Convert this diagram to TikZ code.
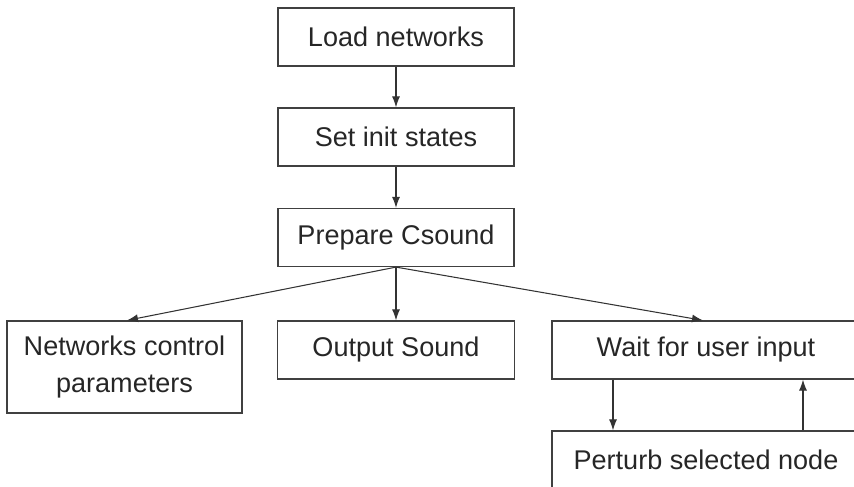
\documentclass[tikz,border=0pt]{standalone}
\usepackage{fontspec}
\setmainfont{Liberation Sans}
\tikzset{>=latex}
\tikzset{stepbox/.style = {draw = black!75, line width = 0.7pt, minimum height = 1.16cm, align = center, font = \fontsize{15.4}{20.5}\selectfont, text = black!85}}
\tikzset{flow/.style = {->, line width = 0.6pt, black!80, >={Latex[length=2.2mm, width=1.6mm]}}}
\usetikzlibrary{arrows.meta}

\begin{document}
\begin{tikzpicture}
	\useasboundingbox (0, 0) rectangle (17.08, -9.74);
	\clip (0, 0) rectangle (17.08, -9.74);
	% main column
	\node[stepbox, minimum width = 4.72cm] (load) at (7.92, -0.74) {Load networks};
	\node[stepbox, minimum width = 4.72cm] (init) at (7.92, -2.74) {Set init states};
	\node[stepbox, minimum width = 4.72cm] (prep) at (7.92, -4.75) {Prepare Csound};
	% bottom row
	\node[stepbox, minimum width = 4.70cm, minimum height = 1.84cm] (net) at (2.49, -7.34) {Networks control\\parameters};
	\node[stepbox, minimum width = 4.74cm] (out) at (7.92, -7.00) {Output Sound};
	\node[stepbox, minimum width = 6.16cm] (wait) at (14.12, -7.00) {Wait for user input};
	\node[stepbox, minimum width = 6.16cm] (pert) at (14.12, -9.20) {Perturb selected node};
	\draw[flow] (load) -- (init);
	\draw[flow] (init) -- (prep);
	\draw[flow] (prep.south) -- ([xshift = 0.05cm]net.north);
	\draw[flow] (prep.south) -- (out.north);
	\draw[flow] (prep.south) -- ([xshift = -0.06cm]wait.north);
	\draw[flow] ([xshift = -1.86cm]wait.south) -- ([xshift = -1.86cm]pert.north);
	\draw[flow] ([xshift = 1.94cm]pert.north) -- ([xshift = 1.94cm]wait.south);
\end{tikzpicture}
\end{document}
